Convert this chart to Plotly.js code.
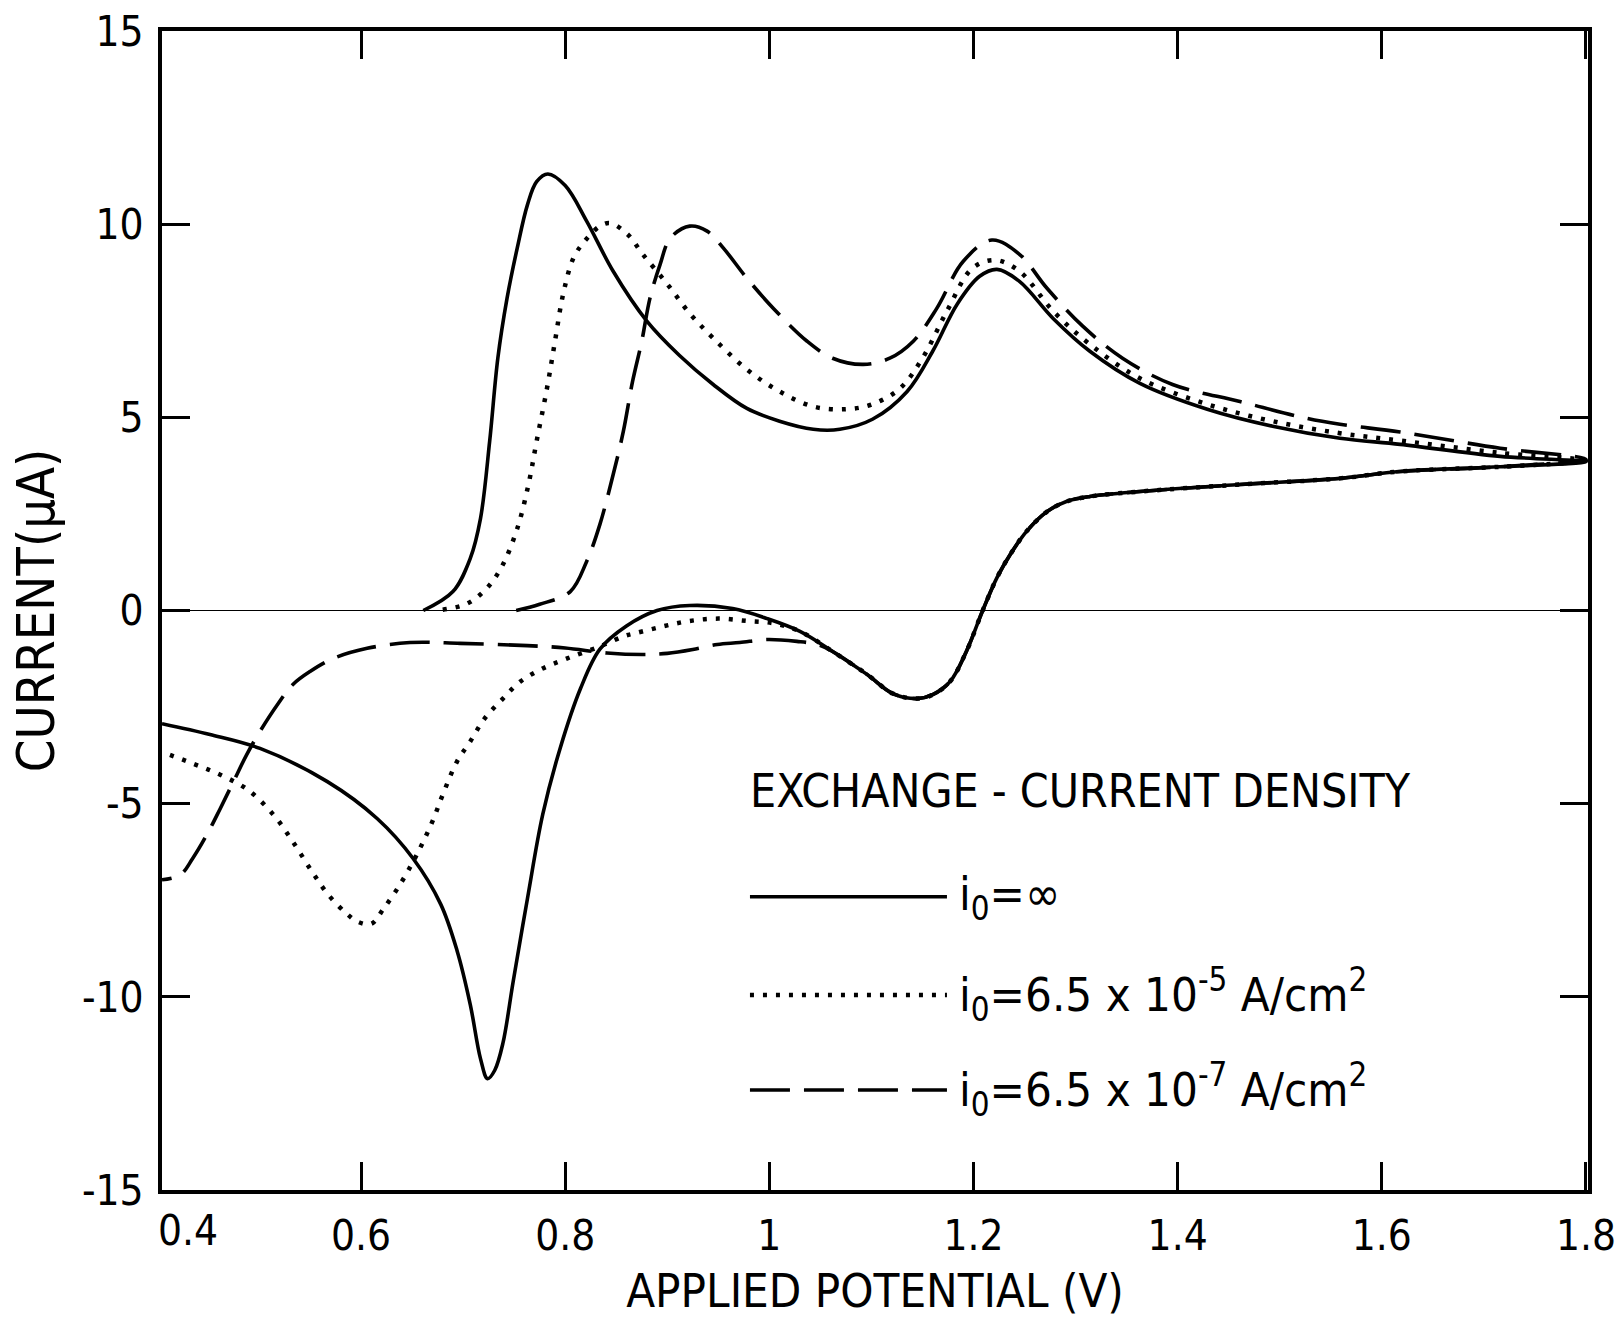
<!DOCTYPE html>
<html>
<head>
<meta charset="utf-8">
<script src="https://cdn.plot.ly/plotly-3.0.1.min.js"></script>
<style>
  html, body { margin: 0; padding: 0; background: #ffffff; }
  #chart { width: 1617px; height: 1322px; }
</style>
</head>
<body>
<div id="chart"></div>
<script>
// ---- Data ----
// Applied potential (V) and current (uA); each curve: forward sweep, then reverse sweep
const solidV = [0.661, 0.690, 0.707, 0.717, 0.726, 0.734, 0.743, 0.753, 0.763, 0.772, 0.783, 0.800, 0.821, 0.847, 0.880, 0.912, 0.945, 0.978, 1.010, 1.043, 1.069, 1.101, 1.135, 1.160, 1.184, 1.206, 1.223, 1.245, 1.278, 1.314, 1.363, 1.429, 1.493, 1.559, 1.618, 1.716, 1.800,
  1.716, 1.618, 1.559, 1.461, 1.363, 1.314, 1.291, 1.272, 1.252, 1.236, 1.223, 1.209, 1.193, 1.177, 1.160, 1.145, 1.121, 1.096, 1.062, 1.030, 0.998, 0.964, 0.922, 0.890, 0.860, 0.834, 0.815, 0.795, 0.778, 0.763, 0.749, 0.739, 0.731, 0.724, 0.717, 0.707, 0.694, 0.678, 0.651, 0.616, 0.567, 0.501, 0.452, 0.405];
const solidI = [0.00, 0.49, 1.35, 2.38, 4.38, 6.53, 8.08, 9.38, 10.50, 11.10, 11.30, 11.00, 10.08, 8.78, 7.49, 6.60, 5.85, 5.23, 4.90, 4.69, 4.69, 4.95, 5.67, 6.71, 7.93, 8.65, 8.83, 8.52, 7.56, 6.71, 5.88, 5.21, 4.77, 4.46, 4.30, 3.99, 3.85,
  3.72, 3.60, 3.42, 3.26, 3.08, 2.95, 2.82, 2.56, 2.05, 1.45, 0.85, 0.00, -1.06, -1.84, -2.18, -2.28, -2.15, -1.66, -1.06, -0.54, -0.21, 0.05, 0.13, 0.00, -0.40, -1.00, -2.02, -3.57, -5.28, -7.46, -9.61, -11.20, -11.90, -12.12, -11.60, -10.20, -8.80, -7.60, -6.42, -5.39, -4.43, -3.57, -3.21, -2.93];

const dottedV = [0.680, 0.704, 0.723, 0.738, 0.753, 0.764, 0.772, 0.782, 0.790, 0.798, 0.808, 0.819, 0.834, 0.844, 0.861, 0.876, 0.900, 0.922, 0.945, 0.978, 1.010, 1.043, 1.075, 1.101, 1.128, 1.150, 1.174, 1.199, 1.221, 1.245, 1.278, 1.314, 1.363, 1.429, 1.493, 1.559, 1.618, 1.716, 1.800,
  1.716, 1.618, 1.559, 1.461, 1.363, 1.314, 1.291, 1.272, 1.252, 1.236, 1.223, 1.209, 1.193, 1.177, 1.160, 1.145, 1.121, 1.096, 1.062, 1.030, 1.004, 0.978, 0.950, 0.922, 0.896, 0.870, 0.858, 0.834, 0.802, 0.778, 0.756, 0.739, 0.721, 0.707, 0.694, 0.680, 0.671, 0.661, 0.651, 0.638, 0.622, 0.610, 0.597, 0.586, 0.568, 0.552, 0.533, 0.514, 0.489, 0.462, 0.435, 0.405];
const dottedI = [0.02, 0.18, 0.57, 1.14, 2.12, 3.26, 4.38, 5.73, 6.97, 8.19, 9.12, 9.56, 9.95, 10.03, 9.74, 9.22, 8.45, 7.69, 7.05, 6.24, 5.67, 5.28, 5.21, 5.34, 5.75, 6.53, 7.75, 8.86, 9.07, 8.78, 7.75, 6.89, 6.01, 5.34, 4.90, 4.59, 4.40, 4.08, 3.88,
  3.72, 3.60, 3.42, 3.26, 3.08, 2.95, 2.82, 2.56, 2.05, 1.45, 0.85, 0.00, -1.06, -1.84, -2.18, -2.28, -2.15, -1.66, -1.06, -0.54, -0.33, -0.27, -0.21, -0.27, -0.41, -0.58, -0.66, -0.93, -1.24, -1.50, -1.84, -2.28, -2.80, -3.39, -3.91, -4.77, -5.39, -5.98, -6.50, -7.10, -7.72, -8.11, -8.06, -7.85, -7.36, -6.76, -5.98, -5.28, -4.64, -4.25, -3.96, -3.66];

const dashedV = [0.752, 0.775, 0.805, 0.821, 0.834, 0.847, 0.857, 0.866, 0.875, 0.883, 0.893, 0.903, 0.922, 0.939, 0.955, 0.978, 1.004, 1.037, 1.062, 1.092, 1.118, 1.141, 1.164, 1.190, 1.218, 1.245, 1.272, 1.307, 1.346, 1.395, 1.461, 1.527, 1.559, 1.618, 1.716, 1.800,
  1.716, 1.618, 1.559, 1.461, 1.363, 1.314, 1.291, 1.272, 1.252, 1.236, 1.223, 1.209, 1.193, 1.177, 1.160, 1.145, 1.121, 1.096, 1.062, 1.047, 1.027, 0.998, 0.971, 0.949, 0.925, 0.900, 0.876, 0.841, 0.800, 0.763, 0.697, 0.648, 0.606, 0.573, 0.550, 0.533, 0.518, 0.501, 0.488, 0.475, 0.462, 0.449, 0.435, 0.423, 0.405];
const dashedI = [0.00, 0.16, 0.49, 1.27, 2.23, 3.52, 4.64, 5.93, 6.97, 8.08, 8.96, 9.64, 9.95, 9.82, 9.38, 8.60, 7.82, 6.97, 6.53, 6.37, 6.53, 6.97, 7.82, 9.04, 9.59, 9.22, 8.34, 7.36, 6.53, 5.85, 5.41, 4.97, 4.82, 4.62, 4.20, 3.92,
  3.72, 3.60, 3.42, 3.26, 3.08, 2.95, 2.82, 2.56, 2.05, 1.45, 0.85, 0.00, -1.06, -1.84, -2.18, -2.28, -2.15, -1.66, -1.06, -0.88, -0.80, -0.75, -0.83, -0.88, -1.01, -1.11, -1.14, -1.10, -0.97, -0.91, -0.85, -0.83, -0.98, -1.24, -1.58, -1.92, -2.44, -3.13, -3.73, -4.43, -5.13, -5.80, -6.42, -6.84, -6.97];

const seriesNames = ["i<sub>0</sub>=\u221E", "i<sub>0</sub>=6.5 x 10<sup>-5</sup> A/cm<sup>2</sup>", "i<sub>0</sub>=6.5 x 10<sup>-7</sup> A/cm<sup>2</sup>"];
const legendTitle = "EXCHANGE - CURRENT DENSITY";
const xTickVals = [0.6, 0.8, 1.0, 1.2, 1.4, 1.6, 1.8];
const xTickText = ["0.6", "0.8", "1", "1.2", "1.4", "1.6", "1.8"];
const yTickVals = [-15, -10, -5, 0, 5, 10, 15];
const yTickText = ["-15", "-10", "-5", "0", "5", "10", "15"];

// ---- Styling ----
const FONT = "'Liberation Sans Narrow', 'DejaVu Sans Condensed', 'Roboto Condensed', 'Liberation Sans', sans-serif";
const styles = [
  {width: 3.6, dash: "solid"},
  {width: 4.5, dash: "4px,9px"},
  {width: 3.6, dash: "40px,14px"}
];

const data = [0, 1, 2].map(k => ({
  x: [solidV, dottedV, dashedV][k],
  y: [solidI, dottedI, dashedI][k],
  name: seriesNames[k], mode: "lines",
  line: {color: "#000", width: styles[k].width, dash: styles[k].dash, shape: "spline", smoothing: 1.0}
}));

// legend block (drawn as text + sample lines in data coordinates)
const legX0 = 0.981, legX1 = 1.174, legTextX = 1.184;
const legRowsY = [-7.41, -9.95, -12.41];
const shapes = legRowsY.map((yy, k) => ({
  type: "line", xref: "x", yref: "y", x0: legX0, x1: legX1, y0: yy, y1: yy,
  line: {color: "#000", width: styles[k].width, dash: styles[k].dash}
}));
const annotations = legRowsY.map((yy, k) => ({
  xref: "x", yref: "y", x: legTextX, y: yy, xanchor: "left", yanchor: "middle",
  text: seriesNames[k], showarrow: false, font: {family: FONT, size: 47, color: "#000"}
}));
annotations.push({
  xref: "x", yref: "y", x: 0.979, y: -4.66, xanchor: "left", yanchor: "middle",
  text: legendTitle, showarrow: false, font: {family: FONT, size: 46, color: "#000"}
});
// "0.4" label at the left end of the x axis
annotations.push({
  xref: "x", yref: "paper", x: 0.43, y: 0, xanchor: "center", yanchor: "top", yshift: -14,
  text: "0.4", showarrow: false, font: {family: FONT, size: 42, color: "#000"}
});

const layout = {
  width: 1617, height: 1322,
  margin: {l: 162, r: 29, t: 31, b: 132},
  paper_bgcolor: "#fff", plot_bgcolor: "#fff",
  showlegend: false,
  font: {family: FONT, color: "#000"},
  xaxis: {
    range: [0.405, 1.802], tickvals: xTickVals, ticktext: xTickText,
    ticks: "inside", ticklen: 28, tickwidth: 3, tickcolor: "#000",
    showline: true, linewidth: 4, linecolor: "#000", mirror: "ticks",
    showgrid: false, zeroline: false,
    tickfont: {family: FONT, size: 42, color: "#000"}, ticklabelstandoff: 6,
    title: {text: "APPLIED POTENTIAL (V)", font: {family: FONT, size: 47, color: "#000"}, standoff: 16}
  },
  yaxis: {
    range: [-15, 15], tickvals: yTickVals, ticktext: yTickText,
    ticks: "inside", ticklen: 28, tickwidth: 3, tickcolor: "#000",
    showline: true, linewidth: 4, linecolor: "#000", mirror: "ticks",
    showgrid: false, zeroline: true, zerolinecolor: "#000", zerolinewidth: 1.8,
    tickfont: {family: FONT, size: 42, color: "#000"}, ticklabelstandoff: 6,
    title: {text: "CURRENT(\u03BCA)", font: {family: FONT, size: 52, color: "#000"}, standoff: 12}
  },
  shapes: shapes,
  annotations: annotations
};

Plotly.newPlot("chart", data, layout, {displayModeBar: false, staticPlot: true});
</script>
</body>
</html>
